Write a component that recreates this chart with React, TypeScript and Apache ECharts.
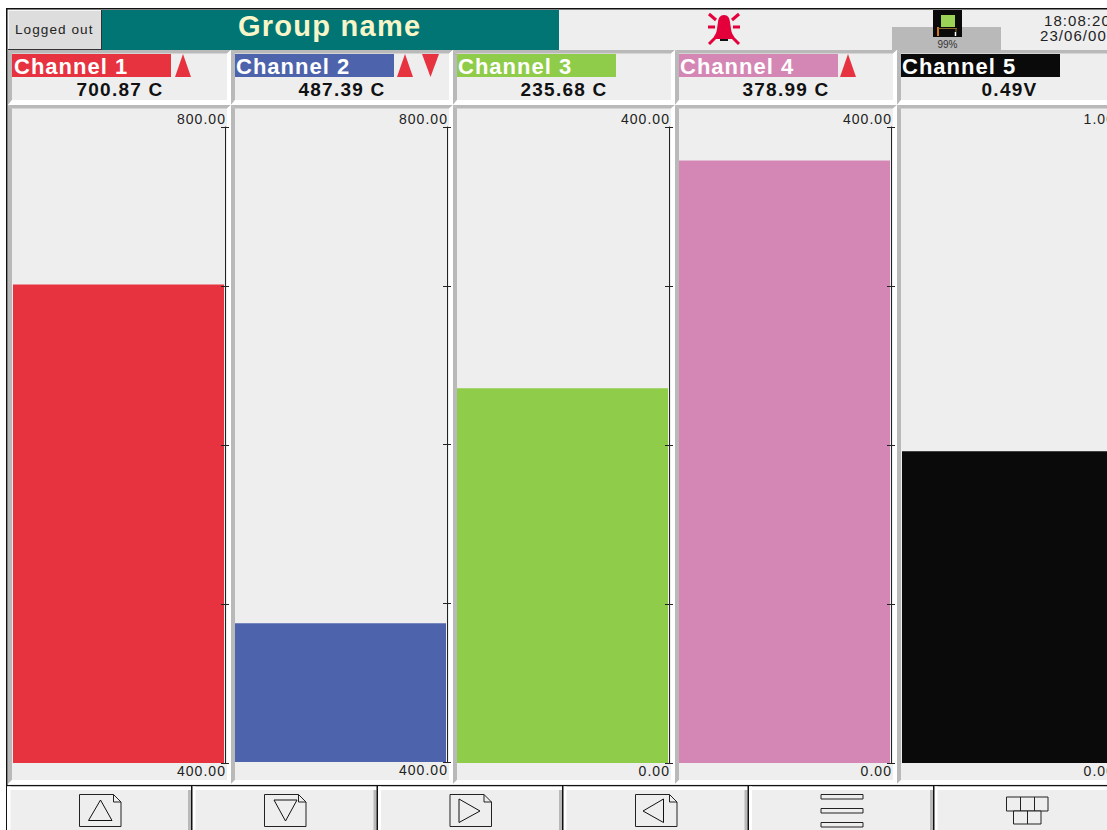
import React, { useEffect, useRef } from "react";
import * as echarts from "echarts";

const channelNames = ["Channel 1", "Channel 2", "Channel 3", "Channel 4", "Channel 5"];
const channelValues = [700.87, 487.39, 235.68, 378.99, 0.49];
const channelUnits = [" C", " C", " C", " C", "V"];
const scaleMins = [400, 400, 0, 0, 0];
const scaleMaxes = [800, 800, 400, 400, 1];
const scaleIntervals = [100, 100, 100, 100, 0.25];
const channelColors = ["#e6333f", "#4d64ad", "#8fcc4a", "#d487b4", "#0a0a0a"];
const groupName = "Group name";
const loginText = "Logged out";
const clockTime = "18:08:20";
const clockDate = "23/06/00";
const memoryText = "99%";

const PANEL = "#eeeeee";
const BEVEL = "#b9b9b9";
const ALARM = "#e6333f";
const FONT = "'Liberation Sans', Arial, sans-serif";

echarts.graphic.registerShape(
  "alarmBell",
  echarts.graphic.extendPath(
    "M724 15 C720 15 718.5 18 718 22 L717 29 C716.5 33 715 35 714 36.5 L714 39 L734 39 L734 36.5 C733 35 731.5 33 731 29 L730 22 C729.5 18 728 15 724 15 Z",
    {}
  )
);

const rect = (x: number, y: number, w: number, h: number, fill: string, extra: any = {}) => ({
  type: "rect",
  shape: { x, y, width: w, height: h },
  style: { fill, ...extra },
  silent: true,
});
const poly = (points: number[][], fill: string, stroke?: string, lineWidth = 1) => ({
  type: "polygon",
  shape: { points },
  style: stroke ? { fill: fill, stroke, lineWidth } : { fill },
  silent: true,
});
const seg = (x1: number, y1: number, x2: number, y2: number, stroke: string, lineWidth = 1) => ({
  type: "line",
  shape: { x1, y1, x2, y2 },
  style: { stroke, lineWidth },
  silent: true,
});
const label = (text: string, x: number, y: number, font: string, fill: string, align = "left") => ({
  type: "text",
  x,
  y,
  z: 10,
  silent: true,
  style: { text, x: 0, y: 0, font: `${font} ${FONT}`, fill, align, verticalAlign: "middle" },
});

// panel with bevelled edges: grey top/left, white bottom/right
const bevelPanel = (x: number, y: number, w: number, h: number, tb: number, lr: number, bb: number, rb: number) => [
  rect(x, y, w, h, PANEL),
  poly([[x, y], [x + w, y], [x + w - rb, y + tb], [x + lr, y + tb]], BEVEL),
  poly([[x, y], [x + lr, y + tb], [x + lr, y + h - bb], [x, y + h]], BEVEL),
  poly([[x + w, y], [x + w, y + h], [x + w - rb, y + h - bb], [x + w - rb, y + tb]], "#ffffff"),
  poly([[x, y + h], [x + w, y + h], [x + w - rb, y + h - bb], [x + lr, y + h - bb]], "#ffffff"),
];

const upTri = (x: number) => poly([[x, 77], [x + 8, 54], [x + 16, 77]], ALARM);
const downTri = (x: number) => poly([[x, 54], [x + 17, 54], [x + 8.5, 77]], ALARM);

const docIcon = (x: number, inner: number[][]) => [
  poly([[x, 794.5], [x + 34, 794.5], [x + 41.5, 802], [x + 41.5, 826.5], [x, 826.5]], PANEL, "#222222", 1),
  seg(x + 34, 794.5, x + 34, 802, "#222222"),
  seg(x + 34, 802, x + 41.5, 802, "#222222"),
  poly(inner, PANEL, "#111111", 1),
];

function buildGraphics() {
  const els: any[] = [];
  // page frame
  els.push(rect(0, 0, 1107, 830, "#ffffff"));
  els.push(rect(6, 8, 1101, 822, PANEL));
  els.push(rect(6, 8, 1101, 1.5, "#111111"));
  els.push(rect(6, 8, 1.5, 822, "#111111"));
  // header
  els.push(rect(8, 10, 94, 40, "#333333"));
  els.push(rect(8, 10, 93, 39, "#dddddd"));
  els.push(seg(9, 10.5, 101, 10.5, "#f4f4f4"));
  els.push(seg(8.5, 10, 8.5, 49, "#f4f4f4"));
  els.push(rect(102, 10, 457, 40, "#007574"));
  els.push(rect(892, 27, 109, 24, BEVEL));
  els.push(label(loginText, 15, 29, "13.6px", "#222222"));
  els.push(label(groupName, 238, 26, "bold 29px", "#f8f5c9"));
  // alarm bell
  const rays = [
    [708, 27, 715, 27], [733, 27, 740, 27], [709, 14, 716, 20], [739, 14, 732, 20],
    [709, 44, 716, 37], [739, 44, 732, 37],
  ];
  rays.forEach((r) => els.push(seg(r[0], r[1], r[2], r[3], "#e4003a", 3)));
  els.push({ type: "alarmBell", x: 0, y: 0, silent: true, style: { fill: "#e4003a" } });
  els.push(rect(720, 39, 8, 2, "#111111"));
  // memory icon
  els.push(rect(933, 10, 29, 27, "#0a0a0a"));
  els.push(rect(941, 15, 14, 12, "#9bd357"));
  els.push(seg(938, 27, 938, 36, "#d07a20", 2));
  els.push(seg(938, 28.5, 957, 28.5, "#8a6a30", 1));
  els.push(seg(956, 28, 956, 32, "#8a6a30", 1));
  els.push(seg(955.5, 32, 955.5, 36, "#ffffff", 1.5));
  els.push(label(memoryText, 947.5, 44.5, "10px", "#333333", "center"));
  els.push(label(clockTime, 1044, 20.5, "15px", "#222222"));
  els.push(label(clockDate, 1040, 35.5, "15px", "#222222"));

  // channel panels
  channelNames.forEach((name, i) => {
    const x = i === 0 ? 8 : 9 + i * 222;
    const w = i === 0 ? 223 : 222;
    els.push(...bevelPanel(x, 50, w, 55, 3.5, 4, 5, 4));
    els.push(...bevelPanel(x, 105, w, 679, 3.5, 4, 4, 4));
    const lx = 12 + i * 222 + (i === 0 ? 0 : 1);
    els.push(rect(lx, 54, 159, 23, channelColors[i]));
    els.push(label(name, 14 + i * 222, 66, "bold 22px", "#ffffff"));
    const v = channelValues[i].toFixed(2) + channelUnits[i];
    els.push(label(v, 120 + i * 222 + (i === 4 ? 1.5 : 0), 89, "bold 19px", "#111111", "center"));
  });
  els.push(upTri(175), upTri(397), downTri(422), upTri(840));

  // footer
  els.push(rect(6, 785, 1101, 1.5, "#111111"));
  const dividers = [7, 192, 377.5, 563, 748.5, 934];
  dividers.forEach((x, i) => {
    els.push(rect(x, 786.5, 3.5, 44, "#ffffff"));
    els.push(rect(x, 786.5, 186, 3.5, "#ffffff"));
    if (i > 0) {
      els.push(rect(x - 4, 790, 3, 40, BEVEL));
      els.push(rect(x - 1, 786, 1.5, 44, "#111111"));
    }
  });
  els.push(...docIcon(79.5, [[88.5, 820.5], [100.5, 800], [112, 820.5]]));
  els.push(...docIcon(264.5, [[274, 800], [297, 800], [285.5, 821]]));
  els.push(...docIcon(450, [[459, 799], [480, 811], [459, 822.5]]));
  els.push(...docIcon(635.5, [[663.5, 799], [643, 811], [663.5, 822.5]]));
  [794.5, 808.5, 822.5].forEach((y) => {
    els.push({ type: "rect", shape: { x: 821, y, width: 42, height: 4.5 }, style: { fill: PANEL, stroke: "#222222", lineWidth: 1 }, silent: true });
  });
  els.push({ type: "rect", shape: { x: 1006.5, y: 797, width: 41.5, height: 14 }, style: { fill: PANEL, stroke: "#222222", lineWidth: 1 }, silent: true });
  els.push({ type: "rect", shape: { x: 1013.5, y: 811, width: 27.5, height: 13 }, style: { fill: PANEL, stroke: "#222222", lineWidth: 1 }, silent: true });
  els.push(seg(1020.5, 797, 1020.5, 811, "#222222"), seg(1034.5, 797, 1034.5, 811, "#222222"), seg(1027.5, 811, 1027.5, 824, "#222222"));
  return els;
}

function buildOption() {
  const grids: any[] = [];
  const xAxes: any[] = [];
  const yAxes: any[] = [];
  const series: any[] = [];
  channelNames.forEach((name, i) => {
    const left = 13 + i * 222 + (i === 4 ? 1 : 0);
    const top = 127;
    const height = i === 1 ? 635 : 636;
    grids.push({ left, top, width: 211, height, containLabel: false, outerBoundsMode: "none" });
    // narrow companion grid carrying the tick marks that straddle the axis line
    grids.push({ left: left + 200, top, width: 8, height, containLabel: false, outerBoundsMode: "none" });
    const hiddenX = { type: "category", data: [name], show: false };
    xAxes.push({ ...hiddenX, gridIndex: i * 2 }, { ...hiddenX, gridIndex: i * 2 + 1 });
    const common = { type: "value", min: scaleMins[i], max: scaleMaxes[i], interval: scaleIntervals[i], position: "right", splitLine: { show: false }, z: 5 };
    yAxes.push({
      ...common,
      gridIndex: i * 2,
      offset: 1,
      axisLine: { show: true, lineStyle: { color: "#222222", width: 1 } },
      axisTick: { show: false },
      axisLabel: {
        inside: true,
        margin: -1,
        align: "right",
        color: "#222222",
        fontSize: 14,
        fontFamily: "'Liberation Sans', Arial, sans-serif",
        padding: [1, 0, 1, 0],
        customValues: [scaleMins[i], scaleMaxes[i]],
        verticalAlignMinLabel: "top",
        verticalAlignMaxLabel: "bottom",
        formatter: (v: number) => v.toFixed(2),
      },
    });
    yAxes.push({
      ...common,
      gridIndex: i * 2 + 1,
      axisLine: { show: false },
      axisLabel: { show: false },
      axisTick: { show: true, length: 8, lineStyle: { color: "#222222", width: 1 } },
    });
    series.push({
      type: "bar",
      name,
      xAxisIndex: i * 2,
      yAxisIndex: i * 2,
      data: [channelValues[i]],
      barWidth: "100%",
      itemStyle: { color: channelColors[i] },
      silent: true,
      z: 3,
    });
  });
  return {
    animation: false,
    backgroundColor: "#ffffff",
    grid: grids,
    xAxis: xAxes,
    yAxis: yAxes,
    series,
    graphic: { elements: buildGraphics() },
  };
}

export default function App() {
  const ref = useRef<HTMLDivElement>(null);
  useEffect(() => {
    document.body.style.margin = "0";
    const chart = echarts.init(ref.current!, null, { renderer: "svg", width: 1107, height: 830 });
    chart.setOption(buildOption() as any);
    return () => chart.dispose();
  }, []);
  return (
    <>
      <style>{`
        svg text { letter-spacing: 1.05px; }
        svg text[style*="bold 29px"] { letter-spacing: 1.25px; }
        svg text[style*="bold 22px"] { letter-spacing: 1px; }
        svg text[style*="bold 19px"] { letter-spacing: 1.25px; }
        svg text[style*=" 10px"] { letter-spacing: 0; }
      `}</style>
      <div ref={ref} style={{ width: 1107, height: 830, overflow: "hidden" }} />
    </>
  );
}
